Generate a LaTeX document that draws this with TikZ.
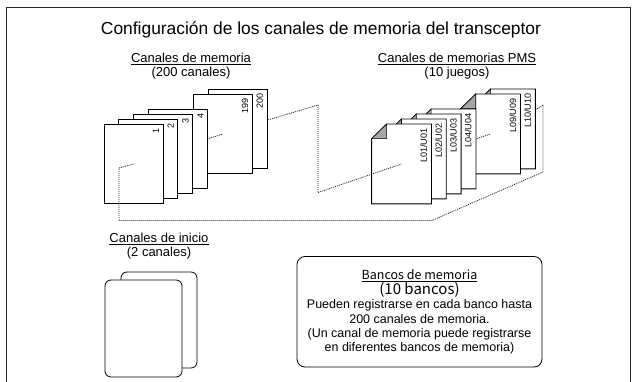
\documentclass[tikz,border=0pt]{standalone}
\usepackage{fontspec}
\setmainfont{Liberation Sans}
\newfontfamily\jpfont{Noto Sans CJK JP}
\usetikzlibrary{backgrounds,positioning,calc}

\begin{document}
\begin{tikzpicture}[
    x=1pt, y=-1pt,
    thick,
    frame/.style={line width=0.8pt, black!85},
    title/.style={font=\fontsize{17.4}{18}\selectfont, anchor=base, inner sep=0pt},
    heading/.style={font=\fontsize{13}{14}\selectfont, align=center, anchor=north, inner sep=0pt},
    mempage/.style={rectangle, draw, fill=white, line width=0.8pt, minimum width=59pt, minimum height=79pt, inner sep=0pt},
    pmspage/.style={rectangle, minimum width=59pt, minimum height=79pt, inner sep=0pt},
    pmsedge/.style={draw, fill=white, line width=0.8pt},
    fold/.style={draw, fill=black!35, line width=0.6pt},
    chlabel/.style={rotate=90, anchor=south east, inner sep=0pt, font=\fontsize{9}{9}\selectfont},
    link/.style={black!85, line width=0.8pt, dash pattern=on 1pt off 1pt},
    card/.style={rectangle, draw, fill=white, rounded corners=6pt, line width=0.8pt},
    bankbox/.style={rectangle, draw, rounded corners=8pt, line width=0.8pt, minimum width=245pt, minimum height=110.5pt, align=center, inner sep=0pt, font=\fontsize{12.5}{14.2}\selectfont}
]
\useasboundingbox (0,0) rectangle (637,382);

% marco y titulo
\draw[frame] (6,382) -- (6,7.5) -- (630,7.5) -- (630,382);
\node[title] (title) at (321,35) {Configuración de los canales de memoria del transceptor};

% encabezados
\node[heading] (memhead) at (191,53) {\underline{Canales de memoria}\\(200 canales)};
\node[heading] (pmshead) at (457,53) {\underline{Canales de memorias PMS}\\(10 juegos)};
\node[heading] (starthead) at (159,232.5) {\underline{Canales de inicio}\\(2 canales)};

% puntos del plano punteado
\coordinate (c1) at (133.5,164);
\coordinate (q1) at (401.5,164);
\coordinate (a1) at (318,105);
\coordinate (a2) at (318,192.5);
\coordinate (b1) at (119,168);
\coordinate (b2) at (119,220.5);
\coordinate (b3) at (432,220.5);
\coordinate (b4) at (543,172);
\coordinate (b5) at (543,105);

% canales de memoria (de atras hacia delante)
\node[mempage] (m200) at (237.45,129) {};
\node[chlabel] (t200) at ([xshift=-4pt,yshift=-4pt]m200.north east) {200};
\node[mempage] (m199) at (222.6,134) {};
\node[chlabel] (t199) at ([xshift=-4pt,yshift=-4pt]m199.north east) {199};
\draw[link] (c1) -- (m199.center);
\node[mempage] (m4) at (178.05,149) {};
\node[chlabel] (t4) at ([xshift=-4pt,yshift=-4pt]m4.north east) {4};
\node[mempage] (m3) at (163.2,154) {};
\node[chlabel] (t3) at ([xshift=-4pt,yshift=-4pt]m3.north east) {3};
\node[mempage] (m2) at (148.35,159) {};
\node[chlabel] (t2) at ([xshift=-4pt,yshift=-4pt]m2.north east) {2};
\node[mempage] (m1) at (c1) {};
\node[chlabel] (t1) at ([xshift=-4pt,yshift=-4pt]m1.north east) {1};

% canales PMS (de atras hacia delante)
\node[pmspage] (p10) at (505.45,129) {};
\draw[pmsedge] (p10.south west) -- ([yshift=-14.5pt]p10.north west) -- ([xshift=15pt]p10.north west) -- (p10.north east) -- (p10.south east) -- cycle;
\draw[fold] ([yshift=-14.5pt]p10.north west) -- ([xshift=15pt]p10.north west) -- ([xshift=15pt,yshift=-14.5pt]p10.north west) -- cycle;
\node[chlabel] (u10) at ([xshift=-4pt,yshift=-4pt]p10.north east) {L10/U10};
\node[pmspage] (p9) at (490.6,134) {};
\draw[pmsedge] (p9.south west) -- ([yshift=-14.5pt]p9.north west) -- ([xshift=15pt]p9.north west) -- (p9.north east) -- (p9.south east) -- cycle;
\draw[fold] ([yshift=-14.5pt]p9.north west) -- ([xshift=15pt]p9.north west) -- ([xshift=15pt,yshift=-14.5pt]p9.north west) -- cycle;
\node[chlabel] (u9) at ([xshift=-4pt,yshift=-4pt]p9.north east) {L09/U09};
\draw[link] (q1) -- (p9.center);
\node[pmspage] (p4) at (446.05,149) {};
\draw[pmsedge] (p4.south west) -- ([yshift=-14.5pt]p4.north west) -- ([xshift=15pt]p4.north west) -- (p4.north east) -- (p4.south east) -- cycle;
\draw[fold] ([yshift=-14.5pt]p4.north west) -- ([xshift=15pt]p4.north west) -- ([xshift=15pt,yshift=-14.5pt]p4.north west) -- cycle;
\node[chlabel] (u4) at ([xshift=-4pt,yshift=-4pt]p4.north east) {L04/U04};
\node[pmspage] (p3) at (431.2,154) {};
\draw[pmsedge] (p3.south west) -- ([yshift=-14.5pt]p3.north west) -- ([xshift=15pt]p3.north west) -- (p3.north east) -- (p3.south east) -- cycle;
\draw[fold] ([yshift=-14.5pt]p3.north west) -- ([xshift=15pt]p3.north west) -- ([xshift=15pt,yshift=-14.5pt]p3.north west) -- cycle;
\node[chlabel] (u3) at ([xshift=-4pt,yshift=-4pt]p3.north east) {L03/U03};
\node[pmspage] (p2) at (416.35,159) {};
\draw[pmsedge] (p2.south west) -- ([yshift=-14.5pt]p2.north west) -- ([xshift=15pt]p2.north west) -- (p2.north east) -- (p2.south east) -- cycle;
\draw[fold] ([yshift=-14.5pt]p2.north west) -- ([xshift=15pt]p2.north west) -- ([xshift=15pt,yshift=-14.5pt]p2.north west) -- cycle;
\node[chlabel] (u2) at ([xshift=-4pt,yshift=-4pt]p2.north east) {L02/U02};
\node[pmspage] (p1) at (q1) {};
\draw[pmsedge] (p1.south west) -- ([yshift=-14.5pt]p1.north west) -- ([xshift=15pt]p1.north west) -- (p1.north east) -- (p1.south east) -- cycle;
\draw[fold] ([yshift=-14.5pt]p1.north west) -- ([xshift=15pt]p1.north west) -- ([xshift=15pt,yshift=-14.5pt]p1.north west) -- cycle;
\node[chlabel] (u1) at ([xshift=-4pt,yshift=-4pt]p1.north east) {L01/U01};

% plano punteado entre las dos pilas
\begin{scope}[on background layer]
\draw[link] (m200.center) -- (a1) -- (a2);
\draw[link] (b5) -- (p10.center);
\end{scope}
\draw[link] (a2) -- (p1.center);
\draw[link] (m1.center) -- (b1) -- (b2) -- (b3) -- (b4) -- (b5);

% canales de inicio
\node[card, minimum width=76pt, minimum height=96pt] (card2) at (159,320) {};
\node[card, minimum width=77pt, minimum height=97pt] (card1) at (143.5,328.5) {};

% bancos de memoria
\node[bankbox] (banks) at (419.5,311.75) {
    {\jpfont\underline{Bancos de memoria}}\\
    {\jpfont\fontsize{15}{14.2}\selectfont (10 bancos)}\\
    Pueden registrarse en cada banco hasta\\
    200 canales de memoria.\\
    (Un canal de memoria puede registrarse\\
    en diferentes bancos de memoria)
};

\end{tikzpicture}
\end{document}
